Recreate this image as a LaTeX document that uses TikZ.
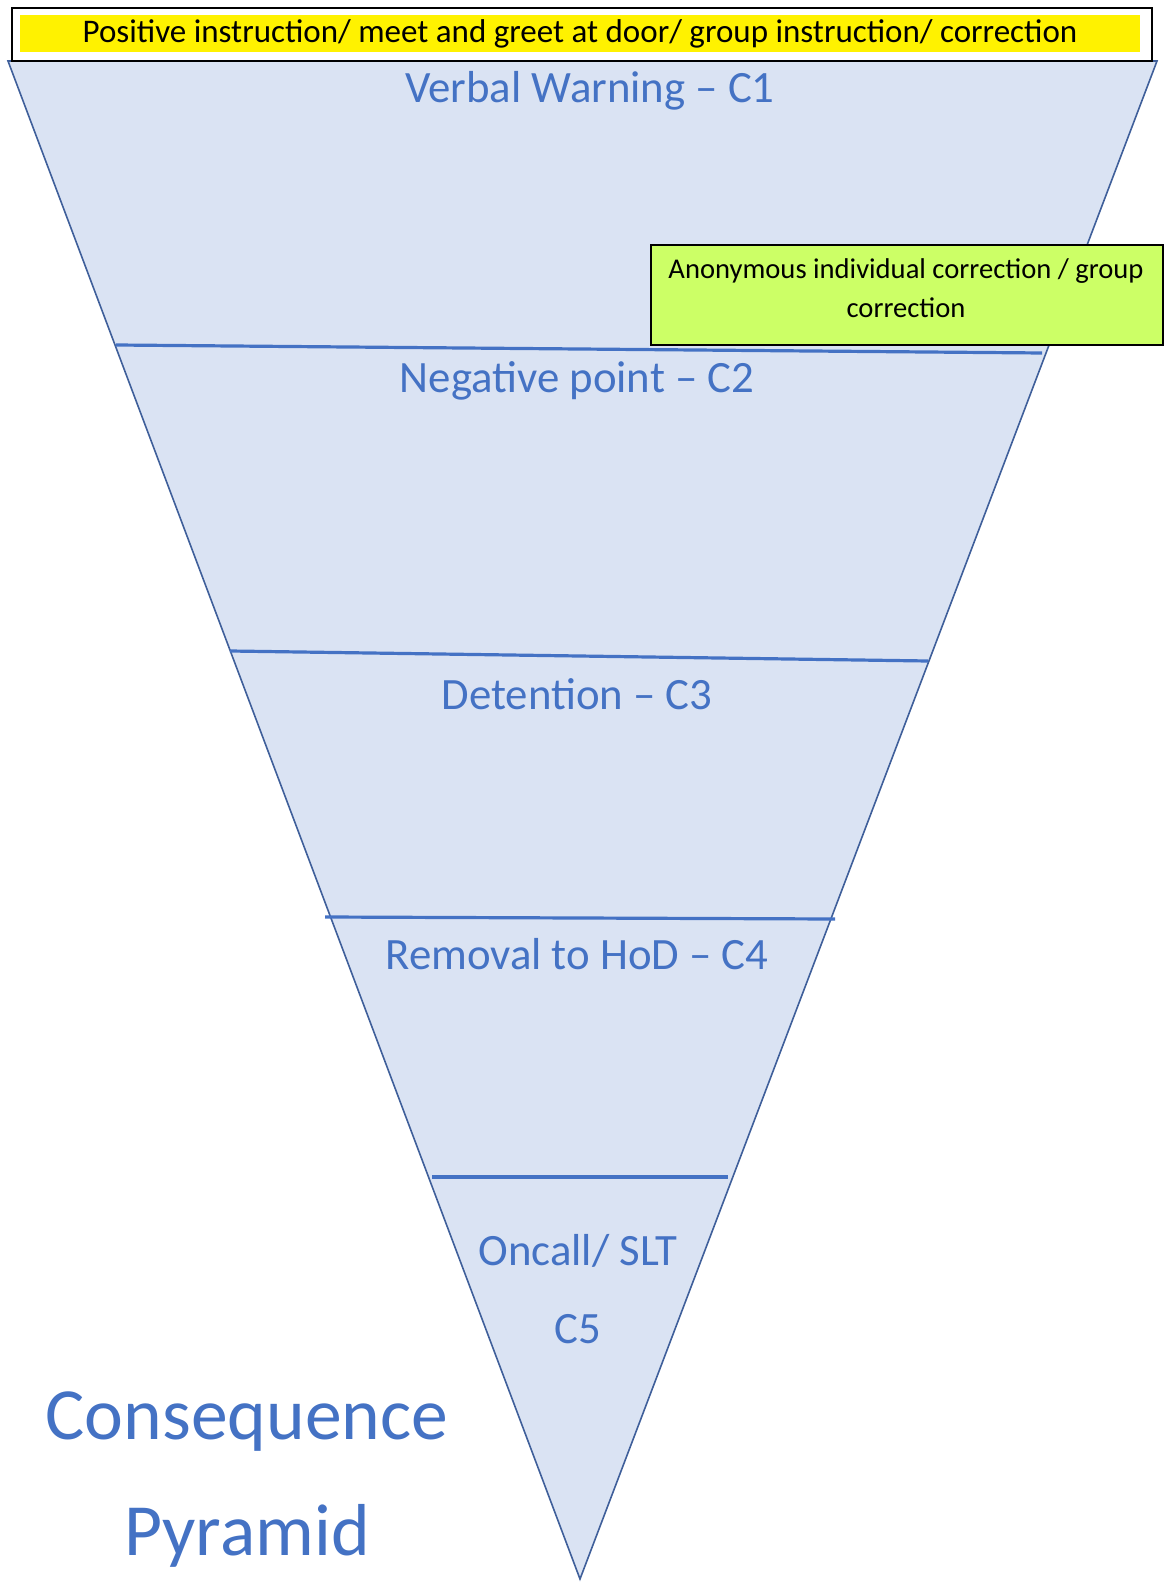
\documentclass[tikz,border=0pt]{standalone}
\usepackage{fontspec}
\setmainfont{Carlito}
\usepackage{tikz}
\usetikzlibrary{positioning,calc}
\definecolor{pyrfill}{HTML}{DAE3F3}
\definecolor{pyrline}{HTML}{4472C4}
\definecolor{pyredge}{HTML}{3F5F9A}
\definecolor{limegreen}{HTML}{CCFF66}
\tikzset{
    level/.style={font=\fontsize{22.4}{26}\selectfont, text=pyrline},
    divider/.style={pyrline, line width=1.6pt},
    title/.style={font=\fontsize{36.8}{42}\selectfont, text=pyrline},
    note/.style={draw=black, line width=0.9pt, fill=limegreen, align=center,
                 font=\fontsize{14.3}{18.5}\selectfont}
}

\begin{document}
\begin{tikzpicture}[x=0.5pt, y=-0.5pt]
    \useasboundingbox (0,0) rectangle (1164,1582);
    % inverted pyramid
    \coordinate (tl) at (8,61);
    \coordinate (tr) at (1157,61);
    \coordinate (apex) at (580,1579);
    \filldraw[fill=pyrfill, draw=pyredge, line width=0.8pt] (tl) -- (tr) -- (apex) -- cycle;

    % band dividers
    \coordinate (l1) at (116,345);  \coordinate (r1) at (1042,353);
    \coordinate (l2) at (230,651);  \coordinate (r2) at (928,661);
    \coordinate (l3) at (325,917);  \coordinate (r3) at (835,919);
    \coordinate (l4) at (432,1177); \coordinate (r4) at (728,1177);
    \draw[divider] (l1) -- (r1);
    \draw[divider] (l2) -- (r2);
    \draw[divider] (l3) -- (r3);
    \draw[divider] (l4) -- (r4);

    % top banner
    \draw[black, line width=1.2pt] (12,8) rectangle (1152,61);
    \fill[yellow] (20,15) rectangle (1140,52);
    \node[font=\fontsize{16.5}{18}\selectfont] (banner) at (580,34)
        {Positive instruction/ meet and greet at door/ group instruction/ correction};

    % levels
    \node[level] (c1) at (590,91) {Verbal Warning -- C1};
    \node[level] (c2) at (577,381) {Negative point -- C2};
    \node[level] (c3) at (577,694) {Detention -- C3};
    \node[level] (c4) at (577,954) {Removal to HoD -- C4};
    \node[level] (c5a) at (578,1251) {Oncall/ SLT};
    \node[level] (c5b) at (578,1329) {C5};

    % side note
    \node[note, minimum width=256pt, minimum height=50pt] (anon) at (907,295) {};
    \node[font=\fontsize{14.3}{18.5}\selectfont] (anon1) at (906,271) {Anonymous individual correction / group};
    \node[font=\fontsize{14.3}{18.5}\selectfont] (anon2) at (906,308) {correction};

    % caption
    \node[title] (cons) at (247,1422) {Consequence};
    \node[title] (pyr) at (247,1536) {Pyramid};
\end{tikzpicture}
\end{document}
